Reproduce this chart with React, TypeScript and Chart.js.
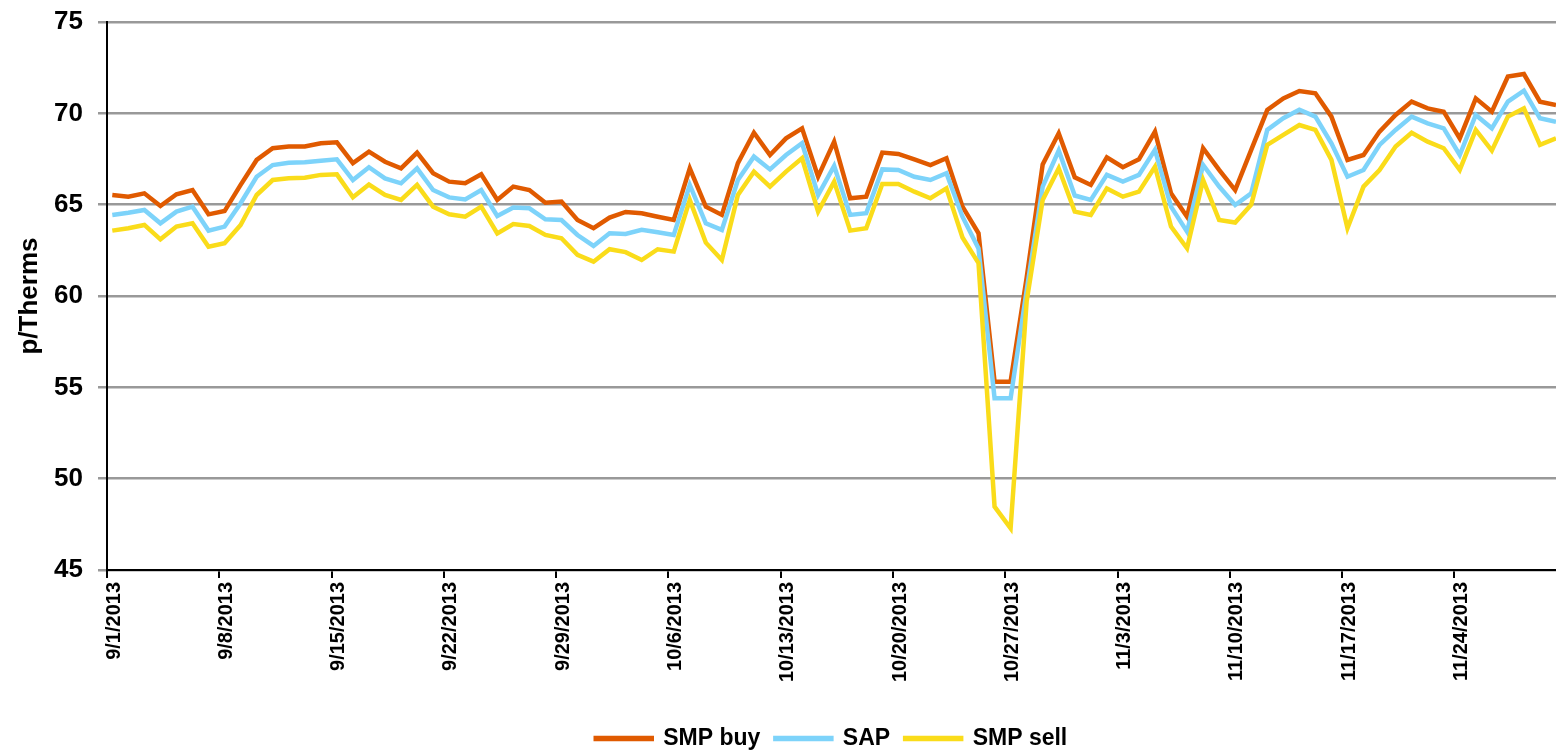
import React, { useEffect, useRef } from 'react';
import { Chart, registerables } from 'chart.js';
Chart.register(...registerables);

const tickLabels = ['9/1/2013', '9/8/2013', '9/15/2013', '9/22/2013', '9/29/2013', '10/6/2013', '10/13/2013', '10/20/2013', '10/27/2013', '11/3/2013', '11/10/2013', '11/17/2013', '11/24/2013'];

const smpBuy = [
  65.53, 65.44, 65.62, 64.93, 65.57, 65.8, 64.47, 64.65, 66.08, 67.45,
  68.09, 68.18, 68.18, 68.36, 68.41, 67.27, 67.9, 67.35, 66.99, 67.85,
  66.72, 66.26, 66.17, 66.66, 65.26, 65.99, 65.8, 65.11, 65.17, 64.16,
  63.71, 64.29, 64.6, 64.53, 64.34, 64.16, 66.99, 64.89, 64.44, 67.27,
  68.94, 67.72, 68.63, 69.18, 66.53, 68.45, 65.35, 65.44, 67.85, 67.78,
  67.48, 67.17, 67.54, 64.89, 63.43, 55.31, 55.31, 61.0, 67.2, 68.91,
  66.5, 66.08, 67.59, 67.05, 67.48, 69.0, 65.62, 64.34, 68.09, 66.9,
  65.8, 68.0, 70.18, 70.82, 71.22, 71.1, 69.82, 67.45, 67.72, 69.0,
  69.91, 70.64, 70.27, 70.09, 68.63, 70.82, 70.09, 72.01, 72.15, 70.64,
  70.46,
];

const sap = [
  64.44, 64.56, 64.71, 63.98, 64.62, 64.89, 63.58, 63.8, 65.08, 66.53,
  67.17, 67.3, 67.32, 67.41, 67.48, 66.35, 67.05, 66.44, 66.17, 66.99,
  65.8, 65.4, 65.29, 65.8, 64.38, 64.84, 64.8, 64.2, 64.16, 63.34,
  62.74, 63.43, 63.4, 63.62, 63.49, 63.34, 66.08, 63.98, 63.62, 66.35,
  67.63, 66.93, 67.72, 68.36, 65.53, 67.12, 64.44, 64.53, 66.93, 66.9,
  66.53, 66.35, 66.72, 64.34, 62.6, 54.4, 54.4, 60.3, 65.99, 67.96,
  65.5, 65.26, 66.63, 66.26, 66.63, 68.0, 64.89, 63.52, 67.17, 65.99,
  64.98, 65.62, 69.09, 69.73, 70.2, 69.82, 68.36, 66.53, 66.9, 68.27,
  69.09, 69.82, 69.45, 69.18, 67.72, 69.91, 69.18, 70.64, 71.24, 69.73,
  69.54,
];

const smpSell = [
  63.58, 63.71, 63.89, 63.1, 63.8, 63.98, 62.7, 62.89, 63.89, 65.53,
  66.35, 66.44, 66.47, 66.63, 66.66, 65.4, 66.1, 65.53, 65.26, 66.08,
  64.89, 64.47, 64.34, 64.89, 63.43, 63.94, 63.83, 63.34, 63.16, 62.25,
  61.88, 62.56, 62.4, 61.97, 62.56, 62.43, 65.26, 62.92, 61.97, 65.53,
  66.81, 65.99, 66.81, 67.54, 64.62, 66.26, 63.58, 63.71, 66.13, 66.13,
  65.71, 65.35, 65.89, 63.2, 61.8, 48.47, 47.28, 59.7, 65.26, 66.99,
  64.62, 64.44, 65.89, 65.44, 65.71, 67.08, 63.8, 62.61, 66.35, 64.16,
  64.02, 65.0, 68.27, 68.82, 69.36, 69.09, 67.45, 63.71, 65.99, 66.9,
  68.18, 68.94, 68.45, 68.09, 66.9, 69.09, 67.96, 69.82, 70.27, 68.27,
  68.63,
];

const FONT = "'Liberation Sans', Arial, sans-serif";
const X_SHIFT = -0.33;

export default function App() {
  const ref = useRef<HTMLCanvasElement>(null);

  useEffect(() => {
    document.body.style.margin = '0';
    const toPts = (arr: number[]) => arr.map((y, i) => ({ x: i, y }));
    const chart = new Chart(ref.current!, {
      type: 'line',
      data: {
        datasets: [
          { label: 'SMP buy', data: toPts(smpBuy), borderColor: '#E05A00', backgroundColor: '#E05A00', borderWidth: 4.5, pointRadius: 0, tension: 0, order: 3 },
          { label: 'SAP', data: toPts(sap), borderColor: '#7DD3FA', backgroundColor: '#7DD3FA', borderWidth: 4.5, pointRadius: 0, tension: 0, order: 2 },
          { label: 'SMP sell', data: toPts(smpSell), borderColor: '#FADC1A', backgroundColor: '#FADC1A', borderWidth: 4.5, pointRadius: 0, tension: 0, order: 1 },
        ],
      },
      options: {
        animation: false,
        responsive: false,
        devicePixelRatio: 1,
        layout: { padding: { top: 22, left: 0, right: 0, bottom: -7 } },
        plugins: {
          legend: {
            position: 'bottom',
            fullSize: false,
            labels: {
              boxWidth: 56,
              boxHeight: 1,
              padding: 15,
              color: '#000',
              font: { family: FONT, size: 23, weight: 'bold' },
              sort: (a: any, b: any) => a.datasetIndex - b.datasetIndex,
            },
          },
          tooltip: { enabled: false },
        },
        scales: {
          x: {
            type: 'linear',
            min: X_SHIFT,
            max: 90,
            afterBuildTicks: (s: any) => {
              s.ticks = tickLabels.map((_, k) => ({ value: k * 7 + X_SHIFT }));
            },
            afterFit: (s: any) => { s.height = 142; s.paddingLeft = 0; s.paddingRight = 0; },
            ticks: {
              autoSkip: false,
              minRotation: 90,
              maxRotation: 90,
              padding: 4,
              labelOffset: 7,
              color: '#000',
              font: { family: FONT, size: 20, weight: 'bold' },
              callback: (_v: any, idx: number) => tickLabels[idx],
            },
            grid: { drawOnChartArea: false, color: '#000', lineWidth: 2, tickLength: 8 },
            border: { color: '#000', width: 2 },
          },
          y: {
            min: 45,
            max: 75,
            afterFit: (s: any) => { s.width = 107; s.paddingTop = 0; s.paddingBottom = 0; },
            ticks: { stepSize: 5, padding: 15, color: '#000', font: { family: FONT, size: 26, weight: 'bold' } },
            grid: { color: '#999999', lineWidth: 2.5, tickLength: 9 },
            border: { color: '#000', width: 2 },
            title: { display: true, text: 'p/Therms', color: '#000', font: { family: FONT, size: 26, weight: 'bold' }, padding: { top: 14, bottom: 0 } },
          },
        },
      } as any,
    });
    return () => chart.destroy();
  }, []);

  return (
    <div style={{ position: 'absolute', left: 0, top: 0, width: 1556, height: 753 }}>
      <canvas ref={ref} width={1556} height={753} style={{ display: 'block' }} />
    </div>
  );
}
